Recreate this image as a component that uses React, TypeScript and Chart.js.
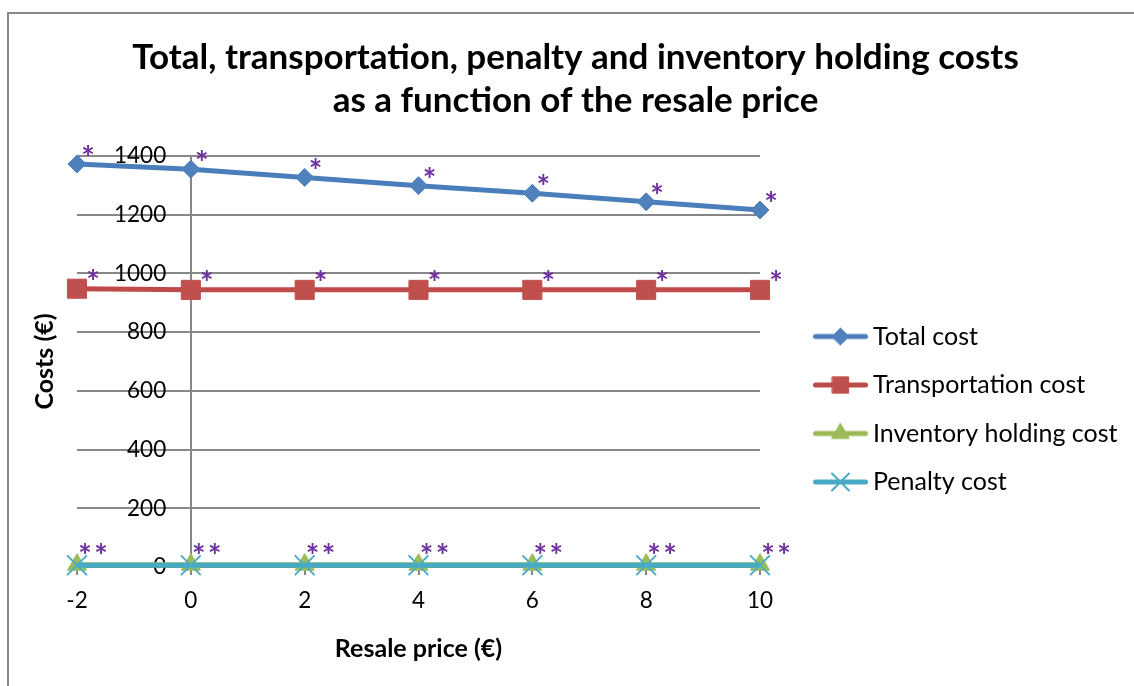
import React, { useEffect, useRef } from 'react';
import { Chart, registerables } from 'chart.js';
import { drawPoint } from 'chart.js/helpers';

Chart.register(...registerables);

// Resale price (€) on the horizontal axis
const resalePrice = [-2, 0, 2, 4, 6, 8, 10];

// Cost series (€)
const totalCost = [1373, 1355, 1327, 1299, 1273, 1244, 1216];
const transportationCost = [948, 944, 944, 944, 944, 944, 944];
const inventoryHoldingCost = [8, 8, 8, 8, 8, 8, 8];
const penaltyCost = [6, 6, 6, 6, 6, 6, 6];

const seriesNames = ['Total cost', 'Transportation cost', 'Inventory holding cost', 'Penalty cost'];

// Axis ticks
const priceTicks = [-2, 0, 2, 4, 6, 8, 10];
const costTicks = [0, 200, 400, 600, 800, 1000, 1200, 1400];

// Label placed next to every point
const noteMark = '*';

const chartTitle = [
  'Total, transportation, penalty and inventory holding costs',
  'as a function of the resale price',
];
const xTitle = 'Resale price (€)';
const yTitle = 'Costs (€)';

const axisGray = '#878787';
const noteColor = '#7030A0';
const fontFamily = 'Lato';

type SeriesStyle = {
  line: string;
  marker: string;
  pointStyle: 'rectRot' | 'rect' | 'triangle' | 'crossRot';
  radius: number;
  legendRadius: number;
  markerBorder: number;
};

const seriesStyles: SeriesStyle[] = [
  { line: '#4A7EBB', marker: '#4F81BD', pointStyle: 'rectRot', radius: 9, legendRadius: 8.5, markerBorder: 1 },
  { line: '#BE4B48', marker: '#C0504D', pointStyle: 'rect', radius: 13.5, legendRadius: 11.5, markerBorder: 1 },
  { line: '#98B954', marker: '#9BBB59', pointStyle: 'triangle', radius: 11, legendRadius: 10, markerBorder: 1 },
  { line: '#46AAC5', marker: '#4BACC6', pointStyle: 'crossRot', radius: 14, legendRadius: 12, markerBorder: 2 },
];

// offset of the note mark from its point, per series (px)
const noteOffsets: [number, number][] = [
  [11, -14],
  [16, -15],
  [8, -17],
  [24, -17],
];

// Legend swatch: a short line with the series marker on it
function makeSwatch(style: SeriesStyle): HTMLCanvasElement {
  const c = document.createElement('canvas');
  c.width = 92;
  c.height = 30;
  const g = c.getContext('2d')!;
  g.lineCap = 'round';
  g.strokeStyle = style.line;
  g.lineWidth = 5;
  g.beginPath();
  g.moveTo(39.5, 15);
  g.lineTo(89.5, 15);
  g.stroke();
  g.fillStyle = style.marker;
  g.strokeStyle = style.marker;
  g.lineWidth = style.markerBorder;
  drawPoint(
    g,
    { pointStyle: style.pointStyle, radius: style.legendRadius, rotation: 0, borderWidth: style.markerBorder } as any,
    64.5,
    15
  );
  return c;
}

const pointNotes = {
  id: 'pointNotes',
  afterDatasetsDraw(chart: Chart) {
    const { ctx } = chart;
    ctx.save();
    ctx.font = `bold 32px ${fontFamily}`;
    ctx.fillStyle = noteColor;
    ctx.textAlign = 'center';
    ctx.textBaseline = 'alphabetic';
    const m = ctx.measureText(noteMark);
    const lift = (m.actualBoundingBoxAscent - m.actualBoundingBoxDescent) / 2;
    chart.data.datasets.forEach((_ds, i) => {
      const meta = chart.getDatasetMeta(i);
      const [dx, dy] = noteOffsets[i];
      meta.data.forEach((pt: any) => {
        ctx.fillText(noteMark, pt.x + dx, pt.y + dy + lift);
      });
    });
    ctx.restore();
  },
};

export default function App() {
  const ref = useRef<HTMLCanvasElement>(null);

  useEffect(() => {
    const canvas = ref.current;
    if (!canvas) return;
    const swatches = seriesStyles.map(makeSwatch);
    const series = [totalCost, transportationCost, inventoryHoldingCost, penaltyCost];

    const chart = new Chart(canvas, {
      type: 'line',
      data: {
        datasets: series.map((values, i) => {
          const s = seriesStyles[i];
          return {
            label: seriesNames[i],
            data: resalePrice.map((x, k) => ({ x, y: values[k] })),
            borderColor: s.line,
            backgroundColor: s.marker,
            borderWidth: 5,
            borderJoinStyle: 'round',
            tension: 0,
            pointStyle: s.pointStyle,
            pointRadius: s.radius,
            pointHoverRadius: s.radius,
            pointBackgroundColor: s.marker,
            pointBorderColor: s.marker,
            pointBorderWidth: s.markerBorder,
            clip: false,
            order: series.length - 1 - i,
          } as any;
        }),
      },
      options: {
        responsive: false,
        animation: false,
        devicePixelRatio: 1,
        events: [],
        layout: { padding: { left: 24, right: 16, top: 0, bottom: 0 } },
        plugins: {
          tooltip: { enabled: false },
          title: {
            display: true,
            text: chartTitle,
            color: '#000',
            font: { family: fontFamily, weight: 'bold', size: 35, lineHeight: '43px' } as any,
            padding: { top: 22.5, bottom: 33.5 },
          },
          legend: {
            display: true,
            position: 'right',
            fullSize: false,
            maxWidth: 358,
            align: 'center',
            title: {
              display: true,
              text: '',
              padding: { top: 94.5, bottom: 0 },
              font: { size: 1, lineHeight: 1 },
            },
            labels: {
              usePointStyle: true,
              pointStyleWidth: 77,
              padding: 23.5,
              color: '#000',
              font: { family: fontFamily, size: 25 },
              generateLabels: (c: Chart) =>
                c.data.datasets.map((ds, i) => ({
                  text: ds.label as string,
                  datasetIndex: i,
                  pointStyle: swatches[i],
                  fillStyle: 'rgba(0,0,0,0)',
                  strokeStyle: 'rgba(0,0,0,0)',
                  lineWidth: 0,
                  fontColor: '#000',
                  hidden: false,
                })) as any,
            },
          } as any,
        },
        scales: {
          x: {
            type: 'linear',
            position: 'bottom',
            min: -2,
            max: 10,
            afterBuildTicks: (s: any) => {
              s.ticks = priceTicks.map((value) => ({ value }));
            },
            grid: {
              color: (c: any) => (c.tick && c.tick.value === 0 ? axisGray : 'rgba(0,0,0,0)'),
              tickColor: axisGray,
              lineWidth: 2,
              tickWidth: 2,
              tickLength: 8,
            },
            border: { display: true, color: axisGray, width: 2 },
            ticks: {
              color: '#000',
              padding: 12.7,
              maxRotation: 0,
              autoSkip: false,
              font: { family: fontFamily, size: 22.5 },
            },
            title: {
              display: true,
              text: xTitle,
              color: '#000',
              font: { family: fontFamily, weight: 'bold', size: 25 },
              padding: { top: 6.6, bottom: 22 },
            },
          } as any,
          y: {
            type: 'linear',
            position: 'left',
            min: 0,
            max: 1400,
            afterBuildTicks: (s: any) => {
              s.ticks = costTicks.map((value) => ({ value }));
            },
            afterFit: (s: any) => {
              s.width = 44;
            },
            grid: { color: axisGray, lineWidth: 2, drawTicks: false },
            border: { display: false },
            ticks: {
              mirror: true,
              crossAlign: 'far',
              padding: 37,
              color: '#000',
              autoSkip: false,
              font: { family: fontFamily, size: 22.5 },
              callback: (v: any) => String(v),
            },
            title: {
              display: true,
              text: yTitle,
              color: '#000',
              font: { family: fontFamily, weight: 'bold', size: 25 },
              padding: { top: -3, bottom: 0 },
            },
          } as any,
        },
      },
      plugins: [pointNotes],
    });

    return () => chart.destroy();
  }, []);

  return (
    <div
      style={{
        position: 'fixed',
        left: 0,
        top: 0,
        width: 1134,
        height: 686,
        overflow: 'hidden',
        background: '#fff',
      }}
    >
      <div
        style={{
          position: 'absolute',
          left: 7,
          top: 12,
          width: 1200,
          height: 760,
          borderLeft: `2px solid ${axisGray}`,
          borderTop: `2px solid ${axisGray}`,
        }}
      >
        <canvas
          ref={ref}
          width={1125}
          height={672}
          style={{ position: 'absolute', left: 0, top: 0, width: 1125, height: 672 }}
        />
      </div>
    </div>
  );
}
